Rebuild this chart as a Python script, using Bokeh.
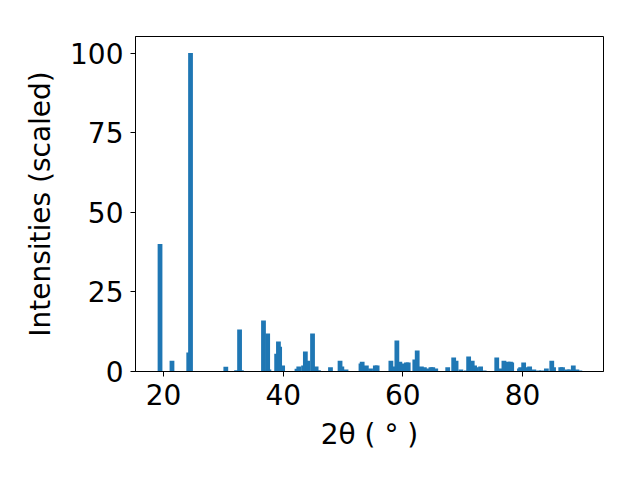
from bokeh.plotting import figure
from bokeh.models import Range1d, FixedTicker
from bokeh.embed import file_html
from bokeh.resources import INLINE

two_theta = [19.4, 21.4, 24.2, 24.5, 30.4, 32.2, 32.7, 33.0, 36.7, 37.4, 37.6,
             38.9, 39.2, 39.4, 39.9, 42.3, 42.6, 43.4, 43.7, 44.1, 44.9, 45.5,
             45.9, 47.9, 49.5, 49.8, 50.5, 53.0, 53.2, 53.9, 54.6, 55.4, 55.7,
             58.0, 58.5, 59.0, 59.5, 60.0, 60.6, 60.9, 62.0, 62.4, 63.1, 63.6,
             64.1, 64.7, 65.0, 65.5, 67.5, 68.5, 68.9, 69.7, 70.6, 71.0, 71.6,
             72.0, 72.3, 73.0, 73.6, 75.7, 76.3, 76.9, 77.6, 78.0, 78.2, 79.5,
             79.7, 80.2, 80.7, 81.2, 81.9, 82.7, 83.2, 84.0, 84.9, 85.2, 86.4,
             86.7, 87.5, 87.9, 88.5, 89.1, 89.6]
intensity = [40, 3.4, 6.0, 100, 1.5, 0.4, 13.2, 0.4, 16.0, 11.9, 0.6,
             5.6, 9.4, 7.8, 1.9, 0.9, 1.6, 1.9, 6.3, 3.4, 11.9, 1.6,
             0.4, 1.3, 3.4, 1.6, 0.6, 2.5, 3.1, 1.9, 0.95, 1.9, 1.9,
             3.4, 1.6, 9.7, 3.1, 2.5, 2.8, 2.8, 3.8, 6.6, 1.6, 1.3,
             0.95, 1.3, 1.3, 0.95, 1.3, 4.4, 3.4, 0.6, 0.3, 4.7, 3.4,
             1.9, 1.3, 1.6, 0.3, 4.4, 0.95, 3.4, 3.1, 3.1, 2.8, 0.95,
             1.3, 2.8, 1.3, 1.6, 0.6, 0.3, 0.3, 0.95, 3.4, 1.3, 1.3,
             1.3, 0.6, 0.6, 1.9, 0.6, 0.3]
x_ticks = [20, 40, 60, 80]
y_ticks = [0, 25, 50, 75, 100]

p = figure(width=632, height=472, output_backend="svg", toolbar_location=None,
           x_range=Range1d(15.3, 93.55), y_range=Range1d(0, 105.2),
           min_border_left=135, min_border_right=29, min_border_top=36,
           min_border_bottom=101)

p.vbar(x=two_theta, top=intensity, bottom=0, width=0.8,
       fill_color="#1f77b4", line_color=None)

p.xgrid.visible = False
p.ygrid.visible = False
p.outline_line_color = "black"
p.outline_line_width = 1
p.background_fill_color = "white"
p.border_fill_color = "white"

p.xaxis.ticker = FixedTicker(ticks=x_ticks)
p.yaxis.ticker = FixedTicker(ticks=y_ticks)
p.xaxis.axis_label = "2θ ( ° )"
p.yaxis.axis_label = "Intensities (scaled)"
for ax in (p.xaxis, p.yaxis):
    ax.major_label_text_font = "DejaVu Sans"
    ax.major_label_text_font_size = "28px"
    ax.major_label_text_color = "black"
    ax.axis_label_text_font = "DejaVu Sans"
    ax.axis_label_text_font_size = "28px"
    ax.axis_label_text_font_style = "normal"
    ax.axis_label_text_color = "black"
    ax.major_tick_out = 5
    ax.major_tick_in = 0
    ax.minor_tick_out = 0
    ax.minor_tick_in = 0
    ax.major_tick_line_color = "black"
    ax.axis_line_color = "black"
    ax.major_label_standoff = 7
    ax.axis_label_standoff = 10

open("out.html", "w").write(file_html(p, INLINE))
